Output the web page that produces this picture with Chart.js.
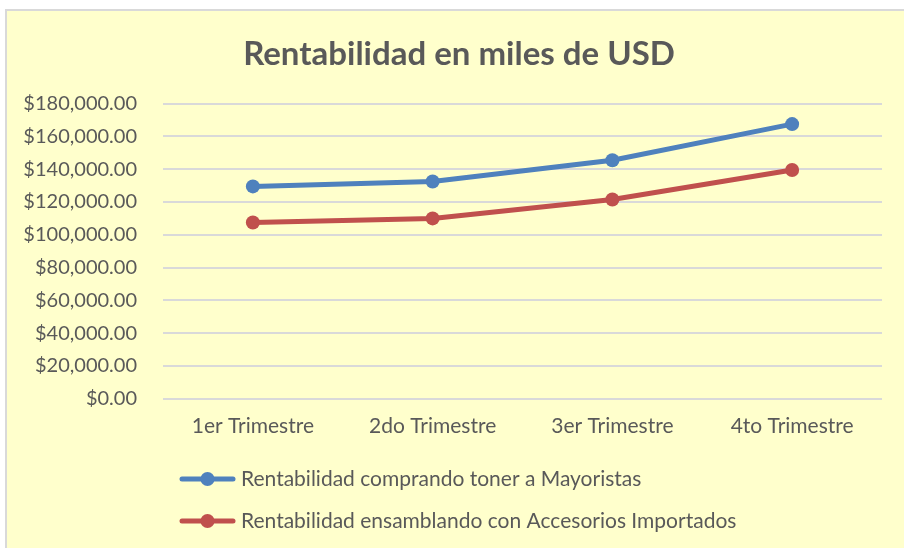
<!DOCTYPE html>
<html>
<head>
<meta charset="utf-8">
<script src="https://cdn.jsdelivr.net/npm/chart.js@4/dist/chart.umd.min.js"></script>
<style>
  html, body { margin: 0; padding: 0; background: #fff; }
  #frame {
    position: absolute; left: 5px; top: 9px; right: 0; bottom: 0;
    background: #FFFFCC;
    border-left: 2px solid #d9d9d9;
    border-top: 2px solid #d9d9d9;
  }
  #wrap { position: absolute; left: 0; top: 0; width: 904px; height: 548px; }
</style>
</head>
<body>
<div id="frame"></div>
<div id="wrap"><canvas id="chart" width="904" height="548"></canvas></div>
<script>
// data
const quarters = ["1er Trimestre", "2do Trimestre", "3er Trimestre", "4to Trimestre"];
const mayoristas = [129500, 132500, 145500, 167500];
const importados = [107500, 110000, 121500, 139500];
const seriesNames = [
  "Rentabilidad comprando toner a Mayoristas",
  "Rentabilidad ensamblando con Accesorios Importados"
];
const yTicks = [0, 20000, 40000, 60000, 80000, 100000, 120000, 140000, 160000, 180000];

const BLUE = "#4F81BD";
const RED = "#C0504D";
const TEXT = "#595959";
const FONT = "Lato, 'Open Sans', sans-serif";

const money = new Intl.NumberFormat("en-US", { minimumFractionDigits: 2, maximumFractionDigits: 2 });

// the original title sits a bit right of the plot's centre
const titleShift = {
  id: "titleShift",
  afterLayout(chart) {
    if (chart.titleBlock) chart.titleBlock.left += 36;
  }
};

// draws the Excel-like line + dot marker in front of each legend entry
const legendMarkers = {
  id: "legendMarkers",
  afterDraw(chart) {
    const legend = chart.legend;
    if (!legend || !legend.legendHitBoxes) return;
    const g = chart.ctx;
    legend.legendHitBoxes.forEach((box, i) => {
      const color = chart.data.datasets[i].borderColor;
      const y = box.top + box.height / 2;
      const x0 = box.left + 9, x1 = box.left + 64;
      g.save();
      g.strokeStyle = color;
      g.lineWidth = 5;
      g.lineCap = "round";
      g.beginPath(); g.moveTo(x0 + 2, y); g.lineTo(x1 - 2, y); g.stroke();
      g.fillStyle = color;
      g.beginPath(); g.arc((x0 + x1) / 2, y, 7, 0, Math.PI * 2); g.fill();
      g.restore();
    });
  }
};

const ctx = document.getElementById("chart");

new Chart(ctx, {
  type: "line",
  data: {
    labels: quarters,
    datasets: [
      {
        label: seriesNames[0],
        data: mayoristas,
        borderColor: BLUE,
        backgroundColor: BLUE,
        borderWidth: 5,
        pointRadius: 7,
        pointBorderWidth: 0,
        tension: 0
      },
      {
        label: seriesNames[1],
        data: importados,
        borderColor: RED,
        backgroundColor: RED,
        borderWidth: 5,
        pointRadius: 7,
        pointBorderWidth: 0,
        tension: 0
      }
    ]
  },
  plugins: [titleShift, legendMarkers],
  options: {
    responsive: false,
    animation: false,
    layout: { padding: { left: 0, right: 22, top: 0, bottom: 0 } },
    plugins: {
      title: {
        display: true,
        text: "Rentabilidad en miles de USD",
        color: TEXT,
        font: { family: FONT, size: 33, weight: "bold" },
        padding: { top: 35, bottom: 29 }
      },
      legend: {
        position: "bottom",
        align: "start",
        fullSize: false,
        labels: {
          color: TEXT,
          font: { family: FONT, size: 21 },
          boxWidth: 59.5,
          boxHeight: 34,
          padding: 8,
          generateLabels: chart => chart.data.datasets.map((ds, i) => ({
            text: ds.label,
            fillStyle: "rgba(0,0,0,0)",
            strokeStyle: "rgba(0,0,0,0)",
            lineWidth: 0,
            fontColor: TEXT,
            hidden: !chart.isDatasetVisible(i),
            datasetIndex: i
          }))
        }
      },
      tooltip: { enabled: false }
    },
    scales: {
      x: {
        offset: true,
        grid: { display: false, drawTicks: false },
        border: { display: false },
        ticks: {
          color: TEXT,
          font: { family: FONT, size: 21, lineHeight: 1.2 },
          padding: 15
        }
      },
      y: {
        min: 0,
        max: 180000,
        afterFit: s => { s.width = 163; },
        afterBuildTicks: s => { s.ticks = yTicks.map(v => ({ value: v })); },
        grid: { color: "#d9d9d9", lineWidth: 2, drawTicks: false },
        border: { display: false },
        ticks: {
          color: TEXT,
          font: { family: FONT, size: 20 },
          padding: 26,
          callback: v => "$" + money.format(v)
        }
      }
    }
  }
});
</script>
</body>
</html>
